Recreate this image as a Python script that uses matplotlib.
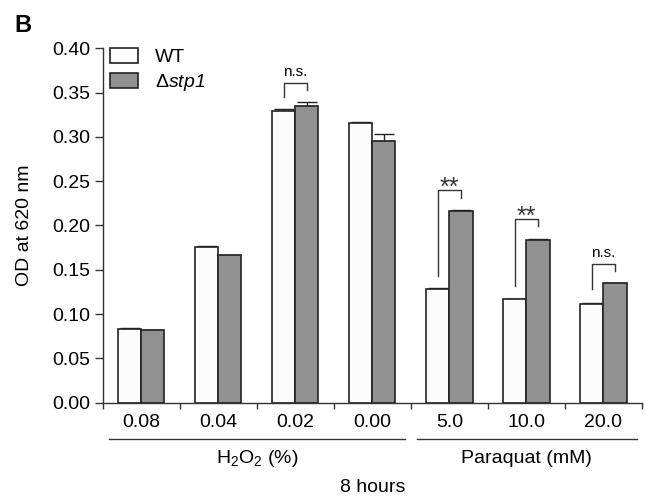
import numpy as np
import matplotlib
matplotlib.use("Agg")
import matplotlib.pyplot as plt

plt.rcParams['font.family'] = ['Liberation Sans', 'DejaVu Sans']
plt.rcParams['mathtext.fontset'] = 'custom'
plt.rcParams['mathtext.rm'] = 'Liberation Sans'
plt.rcParams['mathtext.it'] = 'Liberation Sans:italic'
# sf slot used for the italic strain name so that the digit is italic too
plt.rcParams['mathtext.sf'] = 'Liberation Sans:italic'

# data
doses = ['0.08', '0.04', '0.02', '0.00', '5.0', '10.0', '20.0']
wt = [0.0835, 0.1757, 0.3296, 0.3153, 0.1280, 0.1174, 0.1117]
wt_err = [0.0010, 0.0015, 0.0015, 0.0015, 0.0015, 0.0, 0.0012]
mut = [0.0824, 0.1670, 0.3350, 0.2950, 0.2164, 0.1836, 0.1350]
mut_err = [0.0, 0.0, 0.0040, 0.0085, 0.0010, 0.0012, 0.0]

# significance brackets: group, left bottom, top, right bottom, text
sig_group = [2, 4, 5, 6]
sig_left = [0.345, 0.143, 0.1317, 0.128]
sig_top = [0.361, 0.240, 0.2077, 0.157]
sig_right = [0.353, 0.2314, 0.1994, 0.149]
sig_text = ['n.s.', '**', '**', 'n.s.']

fig = plt.figure(figsize=(6.46, 5.01), dpi=100)
ax = fig.add_axes([0.159, 0.1962, 0.8348, 0.7076])

x = np.arange(len(doses))
w = 0.3
edge = '#222222'
ax.bar(x - w / 2, wt, w, color='#fcfcfc', edgecolor=edge, linewidth=1.2, label='WT', zorder=2)
ax.bar(x + w / 2, mut, w, color='#919191', edgecolor=edge, linewidth=1.2,
       label=r'$\Delta\mathsf{stp1}$', zorder=2)
ax.errorbar(x - w / 2, wt, yerr=[np.zeros(len(wt)), wt_err], fmt='none', ecolor=edge,
            elinewidth=1.0, capsize=7, capthick=1.0, zorder=1)
ax.errorbar(x + w / 2, mut, yerr=[np.zeros(len(mut)), mut_err], fmt='none', ecolor=edge,
            elinewidth=1.0, capsize=7, capthick=1.0, zorder=1)

for g, l, t, r, s in zip(sig_group, sig_left, sig_top, sig_right, sig_text):
    ax.plot([g - w / 2, g - w / 2, g + w / 2, g + w / 2], [l, t, t, r],
            color='#333333', lw=1.0, clip_on=False)
    if s == 'n.s.':
        ax.text(g, t + 0.0043, s, ha='center', va='bottom', fontsize=11)
    else:
        ax.text(g, t - 0.011, s, ha='center', va='bottom', fontsize=18, color='#333333')

ax.set_xlim(-0.5, len(doses) - 0.5)
ax.set_ylim(0, 0.40)
ax.set_yticks(np.arange(0, 0.401, 0.05))
ax.set_yticklabels(['%.2f' % v for v in np.arange(0, 0.401, 0.05)], fontsize=14)
ax.set_xticks(np.arange(-0.5, len(doses), 1.0))
ax.set_xticklabels([])
ax.set_xticks(x, minor=True)
ax.set_xticklabels(doses, minor=True, fontsize=14)
ax.tick_params(axis='x', which='major', direction='out', length=4, width=1.0, color='#333333')
ax.tick_params(axis='x', which='minor', length=0, pad=8)
ax.tick_params(axis='y', direction='out', length=5.5, width=1.0, color='#333333', pad=3.5)
for sp in ['top', 'right']:
    ax.spines[sp].set_visible(False)
for sp in ['left', 'bottom']:
    ax.spines[sp].set_color('#333333')
    ax.spines[sp].set_linewidth(1.0)

ax.set_ylabel('OD at 620 nm', fontsize=14, labelpad=14)

# group underlines and labels
ax.plot([-0.42, 3.42], [-0.041, -0.041], color='#333333', lw=1.0, clip_on=False)
ax.plot([3.58, 6.43], [-0.041, -0.041], color='#333333', lw=1.0, clip_on=False)
ax.text(1.5, -0.0626, r'H$_2$O$_2$ (%)', ha='center', va='center', fontsize=14)
ax.text(5.0, -0.0626, 'Paraquat (mM)', ha='center', va='center', fontsize=14)
ax.text(3.0, -0.0953, '8 hours', ha='center', va='center', fontsize=14)

ax.legend(loc='upper left', bbox_to_anchor=(0.013, 1.0), frameon=False, fontsize=14,
          handlelength=1.44, handleheight=0.77, handletextpad=0.88, labelspacing=0.3,
          borderaxespad=0, borderpad=0)

fig.text(0.023, 0.973, 'B', fontsize=17, fontweight='bold', va='top')

fig.savefig('out.png', dpi=100)
